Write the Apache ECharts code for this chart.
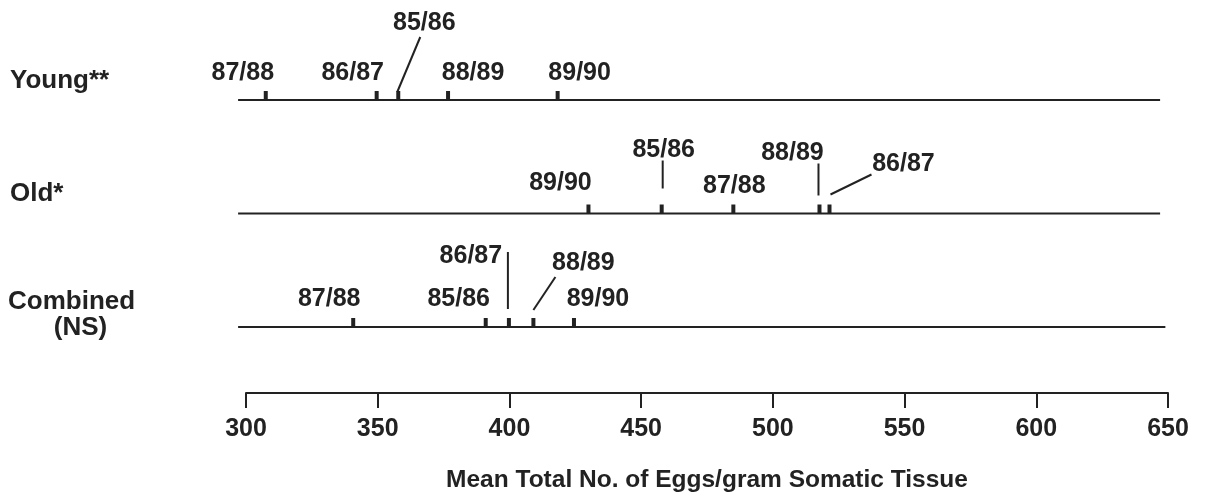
<!DOCTYPE html>
<html>
<head>
<meta charset="utf-8">
<title>Mean Total No. of Eggs/gram Somatic Tissue</title>
<script src="https://cdn.jsdelivr.net/npm/echarts@6/dist/echarts.min.js"></script>
<style>
  html, body { margin: 0; padding: 0; background: #ffffff; }
  #chart { width: 1208px; height: 497px; }
</style>
</head>
<body>
<div id="chart"></div>
<script>
// ---- data -------------------------------------------------------------
const xMin = 300;
const xMax = 650;
const xStep = 50;
const axisTitle = 'Mean Total No. of Eggs/gram Somatic Tissue';

const groupNames = ['Young**', 'Old*', 'Combined\n(NS)'];

const youngSeasons = ['87/88', '86/87', '85/86', '88/89', '89/90'];
const youngMeans   = [307.5, 349.6, 357.8, 376.7, 418.3];

const oldSeasons = ['89/90', '85/86', '87/88', '88/89', '86/87'];
const oldMeans   = [430.0, 457.8, 485.0, 517.7, 521.5];

const combinedSeasons = ['87/88', '85/86', '86/87', '88/89', '89/90'];
const combinedMeans   = [340.7, 391.0, 399.8, 409.1, 424.5];

// extent of each group's reference line
const lineStart = [297, 297, 297];
const lineEnd   = [647, 647, 649];

// ---- layout & style ---------------------------------------------------
const ink = '#222222';
const fontFamily = '"Liberation Sans", Arial, Helvetica, sans-serif';
const labelFont = 'bold 25px ' + fontFamily;
const nameFont = 'bold 26px ' + fontFamily;

// vertical position of each group on the hidden y axis
const rowLevel = [3, 2, 1];

// label offsets (px) from the mark, and optional leader lines [x1, y1, x2, y2]
const labelLayout = [
  [ // Young
    { dx: -23, dy: -27 },
    { dx: -24, dy: -27 },
    { dx: 26, dy: -77, leader: [-1, -8, 22, -63] },
    { dx: 25, dy: -27 },
    { dx: 22, dy: -27 }
  ],
  [ // Old
    { dx: -28, dy: -30 },
    { dx: 2, dy: -63, leader: [1, -25, 1, -53] },
    { dx: 1, dy: -27 },
    { dx: -27, dy: -60, leader: [-1, -18, -1, -50] },
    { dx: 74, dy: -49, leader: [1, -19, 42, -39] }
  ],
  [ // Combined
    { dx: -24, dy: -28 },
    { dx: -27, dy: -28 },
    { dx: -38, dy: -71, leader: [-1, -18, -1, -75] },
    { dx: 50, dy: -64, leader: [0, -17, 22, -50] },
    { dx: 24, dy: -28 }
  ]
];

// group name placement: left edge, offset above the line, indent of continuation lines
const nameLayout = [
  { x: 10, dy: -19, lineGap: 26, indent: 0 },
  { x: 10, dy: -20, lineGap: 26, indent: 0 },
  { x: 8, dy: -25, lineGap: 26, indent: 9 }
];

const measureCtx = document.createElement('canvas').getContext('2d');
measureCtx.font = nameFont;

function seasonSeries(row, seasons, means) {
  return {
    type: 'custom',
    xAxisIndex: 0,
    yAxisIndex: 0,
    silent: true,
    clip: false,
    z: 5,
    data: means.map((m, i) => [m, rowLevel[row], i]),
    renderItem: function (params, api) {
      const i = api.value(2);
      const p = api.coord([api.value(0), api.value(1)]);
      const L = labelLayout[row][i];
      const children = [
        {
          type: 'rect',
          shape: { x: p[0] - 2, y: p[1] - 9, width: 4, height: 9 },
          style: { fill: ink }
        },
        {
          type: 'text',
          style: {
            text: seasons[i],
            x: p[0] + L.dx,
            y: p[1] + L.dy,
            align: 'center',
            verticalAlign: 'middle',
            font: labelFont,
            fill: ink
          }
        }
      ];
      if (L.leader) {
        children.push({
          type: 'line',
          shape: {
            x1: p[0] + L.leader[0], y1: p[1] + L.leader[1],
            x2: p[0] + L.leader[2], y2: p[1] + L.leader[3]
          },
          style: { stroke: ink, lineWidth: 2 }
        });
      }
      return { type: 'group', children: children };
    }
  };
}

// one horizontal reference line per group
const baseLineSeries = {
  type: 'custom',
  xAxisIndex: 0,
  yAxisIndex: 0,
  silent: true,
  clip: false,
  z: 3,
  data: rowLevel.map((lv, i) => [lineStart[i], lineEnd[i], lv]),
  renderItem: function (params, api) {
    const a = api.coord([api.value(0), api.value(2)]);
    const b = api.coord([api.value(1), api.value(2)]);
    return {
      type: 'line',
      shape: { x1: a[0], y1: a[1], x2: b[0], y2: b[1] },
      style: { stroke: ink, lineWidth: 2 }
    };
  }
};

const nameSeries = {
  type: 'custom',
  xAxisIndex: 0,
  yAxisIndex: 0,
  silent: true,
  clip: false,
  data: groupNames.map((n, i) => [xMin, rowLevel[i], i]),
  renderItem: function (params, api) {
    const i = api.value(2);
    const p = api.coord([api.value(0), api.value(1)]);
    const lines = groupNames[i].split('\n');
    const N = nameLayout[i];
    const w = measureCtx.measureText(lines[0]).width;
    const children = lines.map((t, k) => ({
      type: 'text',
      style: {
        text: t,
        x: k === 0 ? N.x : N.x + w / 2 + N.indent,
        y: p[1] + N.dy + k * N.lineGap,
        align: k === 0 ? 'left' : 'center',
        verticalAlign: 'middle',
        font: nameFont,
        fill: ink
      }
    }));
    return { type: 'group', children: children };
  }
};

const chart = echarts.init(document.getElementById('chart'), null, { renderer: 'canvas' });

chart.setOption({
  backgroundColor: '#ffffff',
  animation: false,
  grid: [
    { left: 246, right: 40, top: 100, height: 227 },
    { left: 246, right: 40, top: 392, height: 1 }
  ],
  xAxis: [
    { gridIndex: 0, type: 'value', min: xMin, max: xMax, show: false },
    {
      gridIndex: 1, type: 'value', min: xMin, max: xMax, interval: xStep,
      position: 'bottom',
      axisLine: { show: true, lineStyle: { color: ink, width: 2 } },
      axisTick: { show: true, inside: false, length: 15, lineStyle: { color: ink, width: 2 } },
      axisLabel: {
        color: ink, fontSize: 25, fontWeight: 'bold', fontFamily: fontFamily, margin: 24
      },
      splitLine: { show: false },
      name: axisTitle,
      nameLocation: 'middle',
      nameGap: 75,
      nameTextStyle: { color: ink, fontSize: 24.5, fontWeight: 'bold', fontFamily: fontFamily }
    }
  ],
  yAxis: [
    { gridIndex: 0, type: 'value', min: 1, max: 3, show: false },
    { gridIndex: 1, type: 'value', min: 0, max: 1, show: false }
  ],
  series: [
    baseLineSeries,
    seasonSeries(0, youngSeasons, youngMeans),
    seasonSeries(1, oldSeasons, oldMeans),
    seasonSeries(2, combinedSeasons, combinedMeans),
    nameSeries
  ]
});
</script>
</body>
</html>
